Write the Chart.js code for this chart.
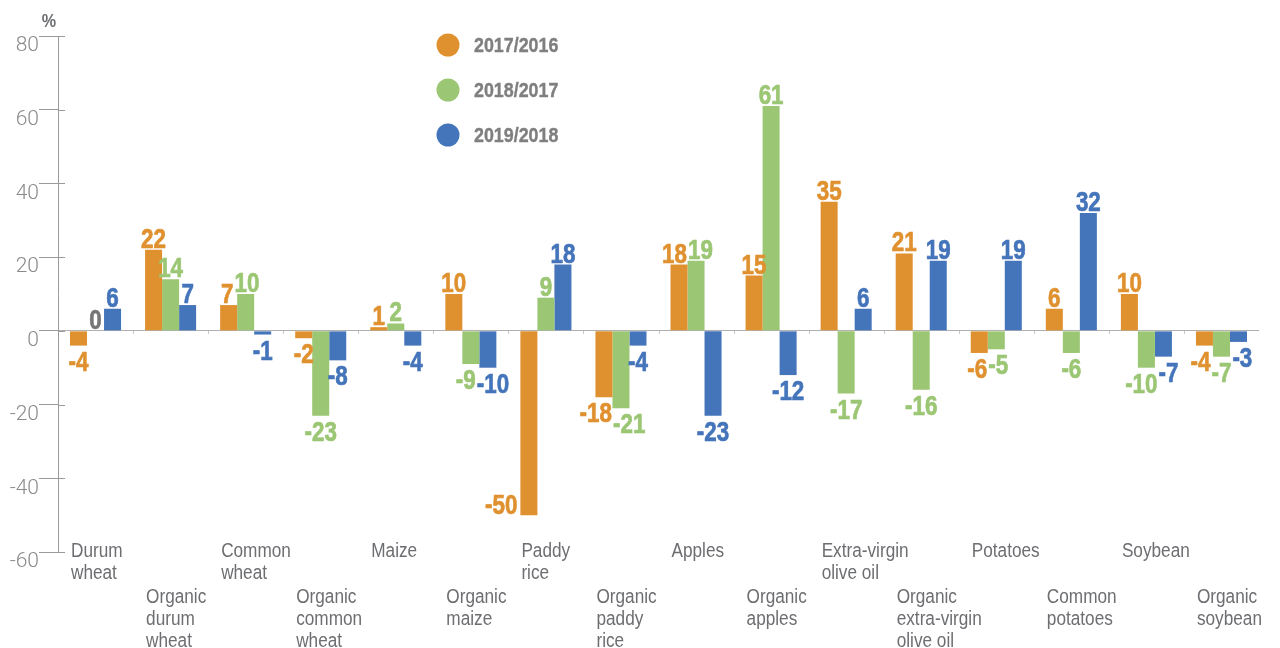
<!DOCTYPE html>
<html>
<head>
<meta charset="utf-8">
<script src="https://cdn.jsdelivr.net/npm/chart.js@4.4.1/dist/chart.umd.min.js"></script>
<style>
  html, body { margin: 0; padding: 0; background: #fff; }
  #wrap { width: 1280px; height: 648px; }
</style>
</head>
<body>
<div id="wrap"><canvas id="chart" width="1280" height="648"></canvas></div>
<script>
// Category names, one entry per line of the label
const categories = [
    ["Durum", "wheat"],
    ["Organic", "durum", "wheat"],
    ["Common", "wheat"],
    ["Organic", "common", "wheat"],
    ["Maize"],
    ["Organic", "maize"],
    ["Paddy", "rice"],
    ["Organic", "paddy", "rice"],
    ["Apples"],
    ["Organic", "apples"],
    ["Extra-virgin", "olive oil"],
    ["Organic", "extra-virgin", "olive oil"],
    ["Potatoes"],
    ["Common", "potatoes"],
    ["Soybean"],
    ["Organic", "soybean"]
];

// Series names and values (%)
const seriesNames = ["2017/2016", "2018/2017", "2019/2018"];
const values2017 = [-4, 22, 7, -2, 1, 10, -50, -18, 18, 15, 35, 21, -6, 6, 10, -4];
const values2018 = [0, 14, 10, -23, 2, -9, 9, -21, 19, 61, -17, -16, -5, -6, -10, -7];
const values2019 = [6, 7, -1, -8, -4, -10, 18, -4, -23, -12, 6, 19, 19, 32, -7, -3];

// Y axis ticks
const yTicks = [-60, -40, -20, 0, 20, 40, 60, 80];

const colours = ["#e0912f", "#9bc673", "#4474ba"];
const squeeze = 0.8; // horizontal squeeze for the bold value labels

// Draw text squeezed horizontally, to get a condensed look
function narrowText(ctx, text, x, y, sx, heavy) {
    ctx.save();
    ctx.translate(x, y);
    ctx.scale(sx, 1);
    ctx.fillText(text, 0, 0);
    if (heavy) {
        ctx.strokeStyle = ctx.fillStyle;
        ctx.lineWidth = heavy;
        ctx.strokeText(text, 0, 0);
    }
    ctx.restore();
}

// Value labels on the end of each bar, nudged apart when they touch
const valueLabels = {
    id: "valueLabels",
    afterDatasetsDraw(chart) {
        const ctx = chart.ctx;
        const area = chart.chartArea;
        ctx.save();
        ctx.font = "bold 28px 'Liberation Sans', sans-serif";
        ctx.textAlign = "center";
        ctx.textBaseline = "alphabetic";
        const metas = chart.data.datasets.map((ds, di) => chart.getDatasetMeta(di));

        for (let i = 0; i < categories.length; i++) {
            // build the labels of this category
            const labels = [];
            chart.data.datasets.forEach((ds, di) => {
                const bar = metas[di].data[i];
                const v = ds.data[i];
                const text = String(v);
                const w = ctx.measureText(text).width * squeeze;
                let x = bar.x;
                let y = v >= 0 ? bar.y - 2 : bar.y + 25;
                // no room below a long negative bar: put it on the left side
                if (y > area.bottom - 20) {
                    x = bar.x - bar.width / 2 - 3 - w / 2;
                    y = bar.y - 1;
                }
                labels.push({
                    text: text, x: x, y: y, w: w,
                    colour: v === 0 ? "#767676" : colours[di]
                });
            });

            // push neighbours apart if they overlap
            for (let pass = 0; pass < 4; pass++) {
                for (let k = 0; k < labels.length - 1; k++) {
                    const a = labels[k];
                    const b = labels[k + 1];
                    if (Math.abs(a.y - b.y) > 22) continue;
                    const overlap = (a.x + a.w / 2) - (b.x - b.w / 2) + 1;
                    if (overlap > 0) {
                        a.x -= overlap / 2;
                        b.x += overlap / 2;
                    }
                }
            }

            labels.forEach(l => {
                ctx.fillStyle = l.colour;
                narrowText(ctx, l.text, l.x, l.y, squeeze, 0.7);
            });
        }
        ctx.restore();
    }
};

// Staggered category labels, the legend, the % unit and small tick marks
const extras = {
    id: "extras",
    afterDraw(chart) {
        const ctx = chart.ctx;
        const xs = chart.scales.x;
        const ys = chart.scales.y;
        const area = chart.chartArea;
        const catW = (area.right - area.left) / categories.length;
        ctx.save();

        // tick stubs inside the axis
        ctx.strokeStyle = "#9a9a9a";
        ctx.lineWidth = 1;
        yTicks.forEach(t => {
            const y = Math.round(ys.getPixelForValue(t)) + 0.5;
            ctx.beginPath();
            ctx.moveTo(area.left, y);
            ctx.lineTo(area.left + 7, y);
            ctx.stroke();
        });

        // faint category dividers on the zero line
        ctx.strokeStyle = "#c8c8c8";
        const zeroY = Math.round(ys.getPixelForValue(0));
        for (let i = 1; i < categories.length; i++) {
            const x = Math.round(xs.getPixelForValue(i) - catW / 2) + 0.5;
            ctx.beginPath();
            ctx.moveTo(x, zeroY);
            ctx.lineTo(x, zeroY + 3);
            ctx.stroke();
        }

        // category labels
        ctx.font = "20px 'Liberation Sans', sans-serif";
        ctx.fillStyle = "#6d6e71";
        ctx.textAlign = "left";
        ctx.textBaseline = "alphabetic";
        categories.forEach((lines, i) => {
            const x = xs.getPixelForValue(i) - catW / 2 + 13;
            const top = (i % 2 === 0) ? 557 : 603;
            lines.forEach((line, j) => {
                narrowText(ctx, line, x, top + j * 22, 0.86);
            });
        });

        // legend
        ctx.font = "bold 21px 'Liberation Sans', sans-serif";
        ctx.textBaseline = "middle";
        seriesNames.forEach((name, i) => {
            const cy = 45 + i * 45;
            ctx.fillStyle = colours[i];
            ctx.beginPath();
            ctx.arc(448, cy, 11.5, 0, Math.PI * 2);
            ctx.fill();
            ctx.fillStyle = "#7f7f7f";
            narrowText(ctx, name, 474, cy + 1, 0.85, 0.4);
        });

        // unit
        ctx.font = "bold 19px 'Liberation Sans', sans-serif";
        ctx.fillStyle = "#6d6e71";
        ctx.textAlign = "center";
        narrowText(ctx, "%", 49, 22, 0.85);

        ctx.restore();
    }
};

const ctx = document.getElementById("chart").getContext("2d");
const chart = new Chart(ctx, {
    type: "bar",
    data: {
        labels: categories.map(c => c.join(" ")),
        datasets: seriesNames.map((name, i) => ({
            label: name,
            data: [values2017, values2018, values2019][i],
            backgroundColor: colours[i],
            borderWidth: 0,
            categoryPercentage: 0.68,
            barPercentage: 1
        }))
    },
    options: {
        responsive: false,
        animation: false,
        events: [],
        layout: { padding: { left: 1, right: 21, top: 36, bottom: 96 } },
        plugins: {
            legend: { display: false },
            tooltip: { enabled: false }
        },
        scales: {
            x: {
                display: false
            },
            y: {
                min: -60,
                max: 80,
                afterFit(scale) { scale.width = 57; },
                afterBuildTicks(scale) { scale.ticks = yTicks.map(v => ({ value: v })); },
                ticks: {
                    color: "#8a8a8a",
                    font: { family: "Roboto", weight: 300, size: 21 },
                    padding: 0,
                    labelOffset: 10
                },
                grid: {
                    drawOnChartArea: true,
                    drawTicks: true,
                    tickLength: 19,
                    tickColor: "#9a9a9a",
                    color: c => (c.tick && c.tick.value === 0) ? "#b0b0b0" : "rgba(0,0,0,0)",
                    lineWidth: 1
                },
                border: { display: true, color: "#9a9a9a", width: 1 }
            }
        }
    },
    plugins: [valueLabels, extras]
});
</script>
</body>
</html>
